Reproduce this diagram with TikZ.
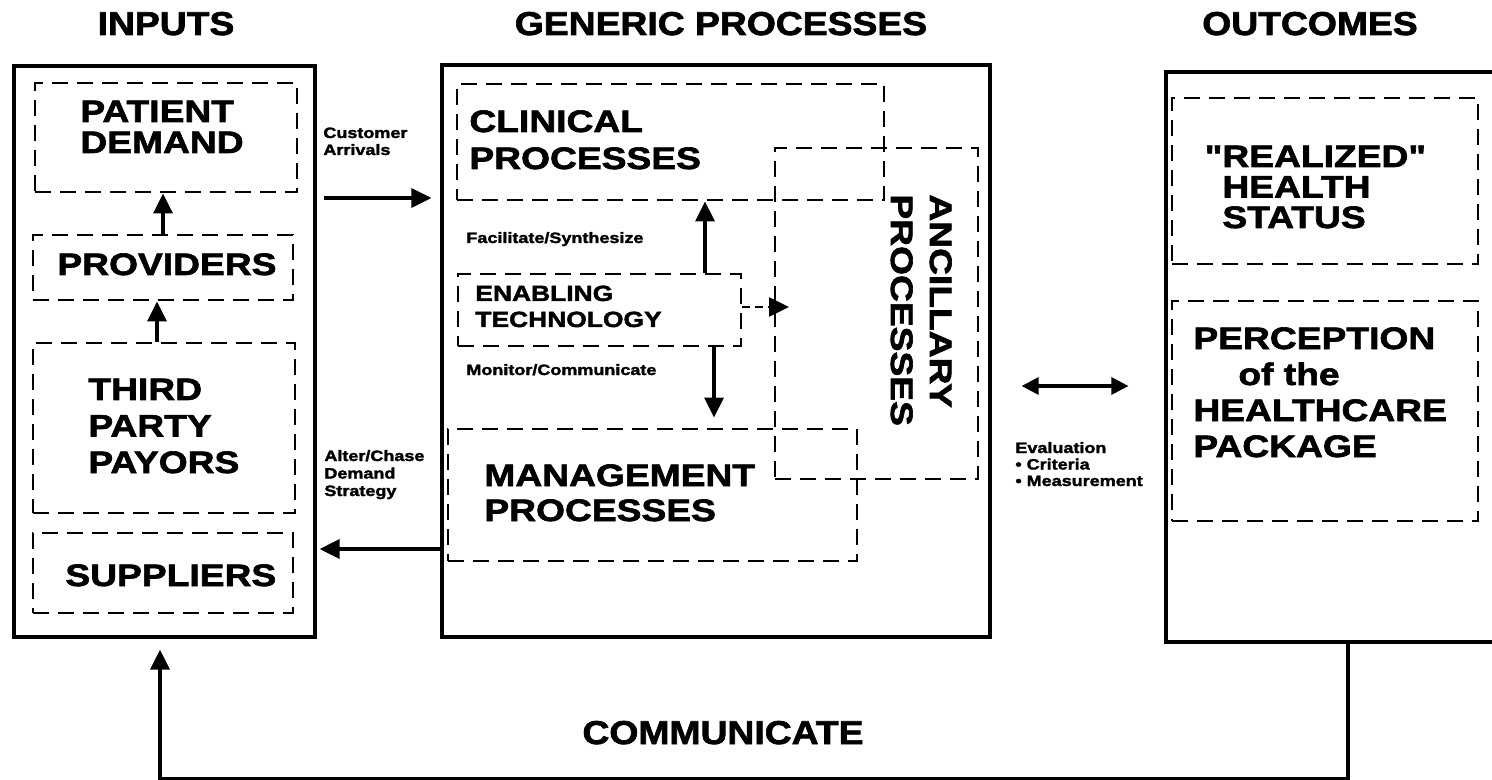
\documentclass[tikz,border=0pt]{standalone}
\usepackage{fontspec}
\setmainfont{Liberation Sans}
\newfontfamily\heavy{Liberation Sans}[FakeStretch=1.2, FakeBold=2]
\newfontfamily\headf{Liberation Sans}[FakeStretch=1.13, FakeBold=2]
\usetikzlibrary{arrows.meta,fit,calc}

\tikzset{
  solidbox/.style={draw, line width=1.6pt, inner sep=0pt},
  dashbox/.style={draw, line width=1.4pt, dash pattern=on 8pt off 4.5pt, inner sep=0pt},
  arr/.style={line width=1.6pt, -{Triangle[length=10pt,width=9.5pt]}},
  dbl/.style={line width=1.6pt, {Triangle[length=8.5pt,width=8.5pt]}-{Triangle[length=8.5pt,width=8.5pt]}},
  head/.style={inner sep=0pt, anchor=base, font=\headf\bfseries\fontsize{16.5}{16.5}\selectfont},
  big/.style={inner sep=0pt, align=left, anchor=base west, font=\heavy\bfseries\fontsize{15.5}{#1}\selectfont},
  big/.default=15.5pt,
  mid/.style={inner sep=0pt, align=left, anchor=base west, font=\heavy\bfseries\fontsize{11}{13}\selectfont},
  small/.style={inner sep=0pt, align=left, anchor=base west, font=\heavy\bfseries\fontsize{7.5}{#1}\selectfont},
  small/.default=8.5pt
}

\begin{document}
\begin{tikzpicture}[x=0.5pt,y=-0.5pt]
\useasboundingbox (0,0) rectangle (1492,780);

% column headings
\node[head] (hin)  at (166,35)  {INPUTS};
\node[head] (hgen) at (721,35)  {GENERIC PROCESSES};
\node[head] (hout) at (1310,35) {OUTCOMES};

% inputs (text nodes are placed by the baseline of their last line)
\node[solidbox, fit={(14,66)(315,637)}] (inbox) {};
\node[dashbox, fit={(35,83)(297,192)}]  (pd)   {};
\node[dashbox, fit={(33,235)(293,300)}] (prov) {};
\node[dashbox, fit={(33,343)(295,513)}] (tpp)  {};
\node[dashbox, fit={(33,533)(293,613)}] (sup)  {};
\node[big] (tpd)   at (80,153)  {PATIENT\\DEMAND};
\node[big] (tprov) at (57,275)  {PROVIDERS};
\node[big=18.25pt] (ttpp) at (88,473) {THIRD\\PARTY\\PAYORS};
\node[big] (tsup)  at (65,586)  {SUPPLIERS};

% labels between inputs and processes
\node[small] (tca) at (323,155) {Customer\\Arrivals};
\node[small=8.75pt] (tac) at (324,496) {Alter/Chase\\Demand\\Strategy};

% generic processes
\node[solidbox, fit={(442,65)(990,637)}] (genbox) {};
\node[dashbox, fit={(457,84)(884,200)}]  (clin) {};
\node[dashbox, fit={(775,148)(978,479)}] (anc)  {};
\node[dashbox, fit={(458,274)(741,346)}] (enab) {};
\node[dashbox, fit={(448,429)(857,561)}] (mgmt) {};
\node[big=18.5pt] (tclin) at (469,169) {CLINICAL\\PROCESSES};
\node[small] (tfac) at (466,243) {Facilitate/Synthesize};
\node[mid] (tenab) at (475,327) {ENABLING\\TECHNOLOGY};
\node[small] (tmon) at (466,375) {Monitor/Communicate};
\node[big=17.5pt] (tmgmt) at (484,521) {MANAGEMENT\\PROCESSES};
\node[big=19.5pt, rotate=-90] (tanc) at (891,194) {ANCILLARY\\PROCESSES};

% evaluation label
\node[small=8.25pt] (tev) at (1015,486) {Evaluation\\\textbullet\ Criteria\\\textbullet\ Measurement};

% outcomes
\node[solidbox, fit={(1166,72)(1530,642)}] (outbox) {};
\node[dashbox, fit={(1172,98)(1478,264)}]  (real) {};
\node[dashbox, fit={(1172,301)(1478,521)}] (perc) {};
\node[big=15.25pt] (treal) at (1222,228) {\llap{"}REALIZED"\\HEALTH\\STATUS};
\node[big=18pt] (tperc) at (1193,457) {PERCEPTION\\\hspace*{22.5pt}of the\\HEALTHCARE\\PACKAGE};

% feedback label
\node[head] (tcom) at (723,744) {COMMUNICATE};

% connector guides
\coordinate (px) at (157,0);
\coordinate (cy) at (0,198);
\coordinate (ay) at (0,549);
\coordinate (fx) at (705,0);
\coordinate (mx) at (714,0);
\coordinate (dt) at (789,307);
\coordinate (ey) at (0,386);
\coordinate (bl) at (160,779);

% connectors
\draw[arr] (prov.north) -- (prov.north |- pd.south);
\draw[arr] (tpp.north -| px) -- (prov.south -| px);
\draw[arr, shorten <=3.5pt, shorten >=4.5pt] (inbox.east |- cy) -- (genbox.west |- cy);
\draw[arr, shorten >=1.5pt] (genbox.west |- ay) -- (inbox.east |- ay);
\draw[arr] (enab.north -| fx) -- (clin.south -| fx);
\draw[arr, shorten >=5pt] (enab.south -| mx) -- (mgmt.north -| mx);
\draw[arr, line width=1.3pt, dash pattern=on 4pt off 2.5pt] (enab.east |- dt) -- (dt);
\draw[dbl, shorten <=15pt, shorten >=18pt] (genbox.east |- ey) -- (outbox.west |- ey);
\draw[arr, shorten >=5.5pt] (outbox.south) -- (outbox.south |- bl) -- (bl) -- (inbox.south -| bl);

\end{tikzpicture}
\end{document}
